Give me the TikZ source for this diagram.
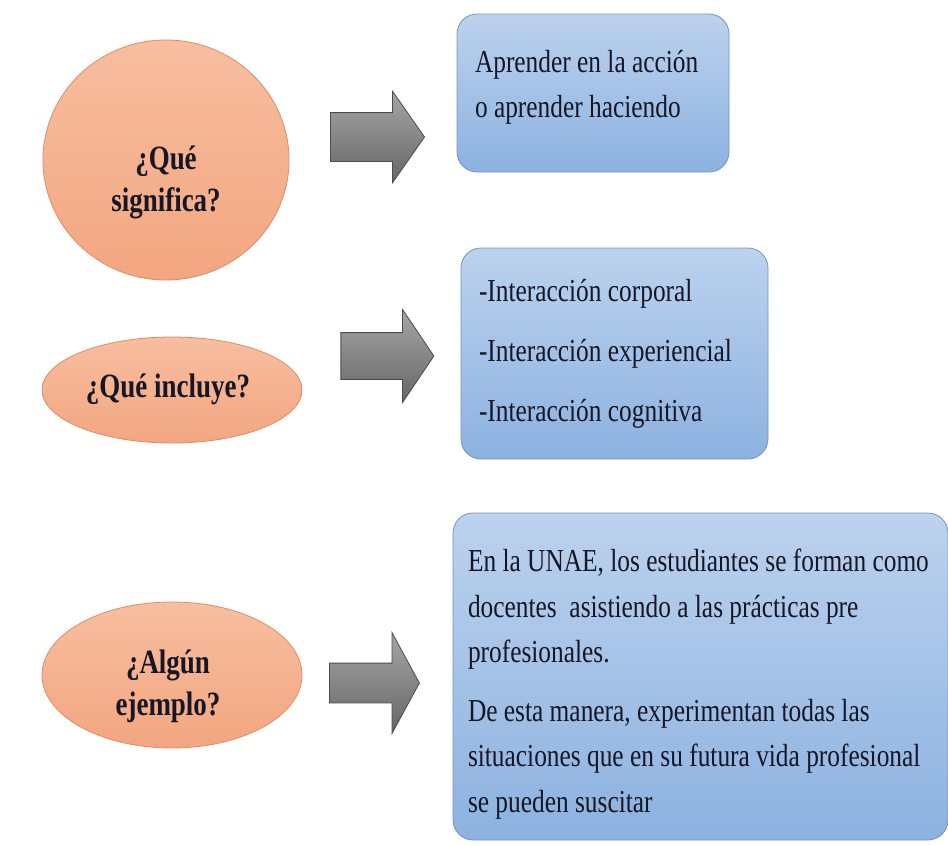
\documentclass[tikz,border=0pt]{standalone}
\usepackage{fontspec}
\setmainfont[FakeStretch=0.793]{Liberation Serif}
\usetikzlibrary{shapes.geometric,shapes.arrows}

\definecolor{peachtop}{RGB}{248,190,160}
\definecolor{peachbot}{RGB}{242,166,128}
\definecolor{peachline}{RGB}{222,140,102}
\definecolor{skytop}{RGB}{188,210,238}
\definecolor{skybot}{RGB}{140,178,224}
\definecolor{skyline}{RGB}{118,148,188}
\definecolor{ink}{RGB}{22,22,36}

\begin{document}
\begin{tikzpicture}[x=0.5pt, y=-0.5pt,
    bubble/.style={ellipse, draw=peachline, top color=peachtop, bottom color=peachbot, inner sep=0pt},
    qtext/.style={align=center, text=ink, font=\bfseries\fontsize{17}{21}\selectfont},
    infobox/.style={rectangle, rounded corners=10pt, draw=skyline, top color=skytop, bottom color=skybot,
        inner xsep=9pt, align=flush left, text=ink, font=\fontsize{16}{22.75}\selectfont},
    bigarrow/.style={single arrow, draw=black!70, top color=black!35, bottom color=black!60, inner xsep=0pt}]

    \useasboundingbox (0,0) rectangle (948,846);

    % questions
    \node[bubble, minimum width=123pt, minimum height=120pt] (q1) at (166,160) {};
    \node[qtext] (q1t) at (166,182) {¿Qué\\significa?};
    \node[bubble, minimum width=130pt, minimum height=53pt] (q2) at (172,390) {};
    \node[qtext] (q2t) at (168,389) {¿Qué incluye?};
    \node[bubble, minimum width=130pt, minimum height=73pt] (q3) at (172,675) {};
    \node[qtext] (q3t) at (168,686) {¿Algún\\ejemplo?};

    % arrows
    \node[bigarrow, minimum height=47pt, inner ysep=12pt, single arrow head extend=10.75pt,
        single arrow tip angle=110] (a1) at (369,137) {};
    \node[bigarrow, minimum height=46.5pt, inner ysep=11.5pt, single arrow head extend=11.5pt,
        single arrow tip angle=112] (a2) at (379.5,356) {};
    \node[bigarrow, minimum height=45pt, inner ysep=9.75pt, single arrow head extend=15.25pt,
        single arrow tip angle=123] (a3) at (369,683) {};

    % answers
    \node[infobox, minimum height=79pt, text width=118pt, text depth=32pt] (r1) at (593,93)
        {Aprender en la acción\\o aprender haciendo};
    \node[infobox, minimum height=105.5pt, text width=135.5pt] (r2) at (614.5,353.5)
        {-Interacción corporal\\[7.25pt]-Interacción experiencial\\[7.25pt]-Interacción cognitiva};
    \node[infobox, inner xsep=7.5pt, minimum height=163.5pt, text width=232.5pt, text height=19pt] (r3) at (700.5,676.5)
        {En la UNAE, los estudiantes se forman como\\docentes \ asistiendo a las prácticas pre\\profesionales.\\[6.5pt]De esta manera, experimentan todas las\\situaciones que en su futura vida profesional\\se pueden suscitar};
\end{tikzpicture}
\end{document}
